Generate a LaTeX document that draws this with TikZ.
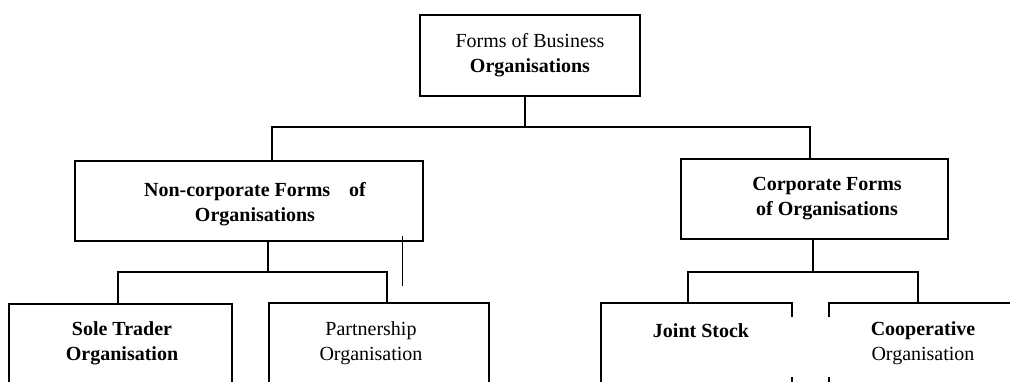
\documentclass[tikz,border=0pt]{standalone}
\usepackage{fontspec}
\setmainfont{Liberation Serif}
\begin{document}
\begin{tikzpicture}[x=1pt,y=-1pt,
  box/.style={draw, line width=1.7pt, inner sep=0pt, minimum width=#1},
  txt/.style={align=center, inner sep=0pt, font=\fontsize{20}{25}\selectfont},
  link/.style={line width=1.7pt},
  stray/.style={line width=1pt}]
\useasboundingbox (0,0) rectangle (1010,381);

% top level
\node[box=220pt, minimum height=81pt] (top) at (530,55.5) {};
\node[txt] (topT) at (530,55) {Forms of Business\\\textbf{Organisations}};

% second level
\node[box=348pt, minimum height=80pt] (nc) at (249,201) {};
\node[txt, font=\fontsize{20}{25}\selectfont\bfseries] (ncT) at (255,204)
  {Non-corporate Forms\hspace{19pt}of\\Organisations};
\node[box=267pt, minimum height=80pt] (corp) at (814.5,199) {};
\node[txt, font=\fontsize{20}{25}\selectfont\bfseries] (corpT) at (827,199)
  {Corporate Forms\\of Organisations};

% third level (boxes run past the lower edge)
\node[box=223pt, minimum height=120pt] (sole) at (120.5,364) {};
\node[txt, font=\fontsize{20}{25}\selectfont\bfseries] (soleT) at (122,343)
  {Sole Trader\\Organisation};
\node[box=220pt, minimum height=120pt] (part) at (379,363) {};
\node[txt] (partT) at (371,343) {Partnership\\Organisation};

\node[minimum width=191pt, minimum height=120pt, inner sep=0pt] (js) at (696.5,363) {};
\draw[link] (js.south west) -- (js.north west) -- (js.north east) -- ++(0,14);
\draw[link] (js.north east) ++(0,74) -- ++(0,10);
\node[txt, font=\fontsize{20}{25}\selectfont\bfseries] (jsT) at (701,331) {Joint Stock};

\node[minimum width=200pt, minimum height=120pt, inner sep=0pt] (coop) at (929,363) {};
\draw[link] (coop.north west) ++(0,14) -- (coop.north west) -- ++(190,0);
\draw[link] (coop.north west) ++(0,74) -- ++(0,10);
\node[txt] (coopT) at (923,343) {\textbf{Cooperative}\\Organisation};

% connectors
\coordinate (busL) at (272,127);
\coordinate (busR) at (810,127);
\draw[link] (top.south -| 525,0) -- (525,127);
\draw[link] (nc.north -| busL) -- (busL) -- (busR) -- (corp.north -| busR);

\coordinate (ncL) at (118,272);
\coordinate (ncR) at (387,272);
\draw[link] (nc.south -| 268,0) -- (268,272);
\draw[link] (sole.north -| ncL) -- (ncL) -- (ncR) -- (part.north -| ncR);

\coordinate (cpL) at (688,272);
\coordinate (cpR) at (918,272);
\draw[link] (corp.south -| 813,0) -- (813,272);
\draw[link] (js.north -| cpL) -- (cpL) -- (cpR) -- (coop.north -| cpR);

% stray rule beside the left branch
\draw[stray] (402,236) -- (402,286);
\end{tikzpicture}
\end{document}
